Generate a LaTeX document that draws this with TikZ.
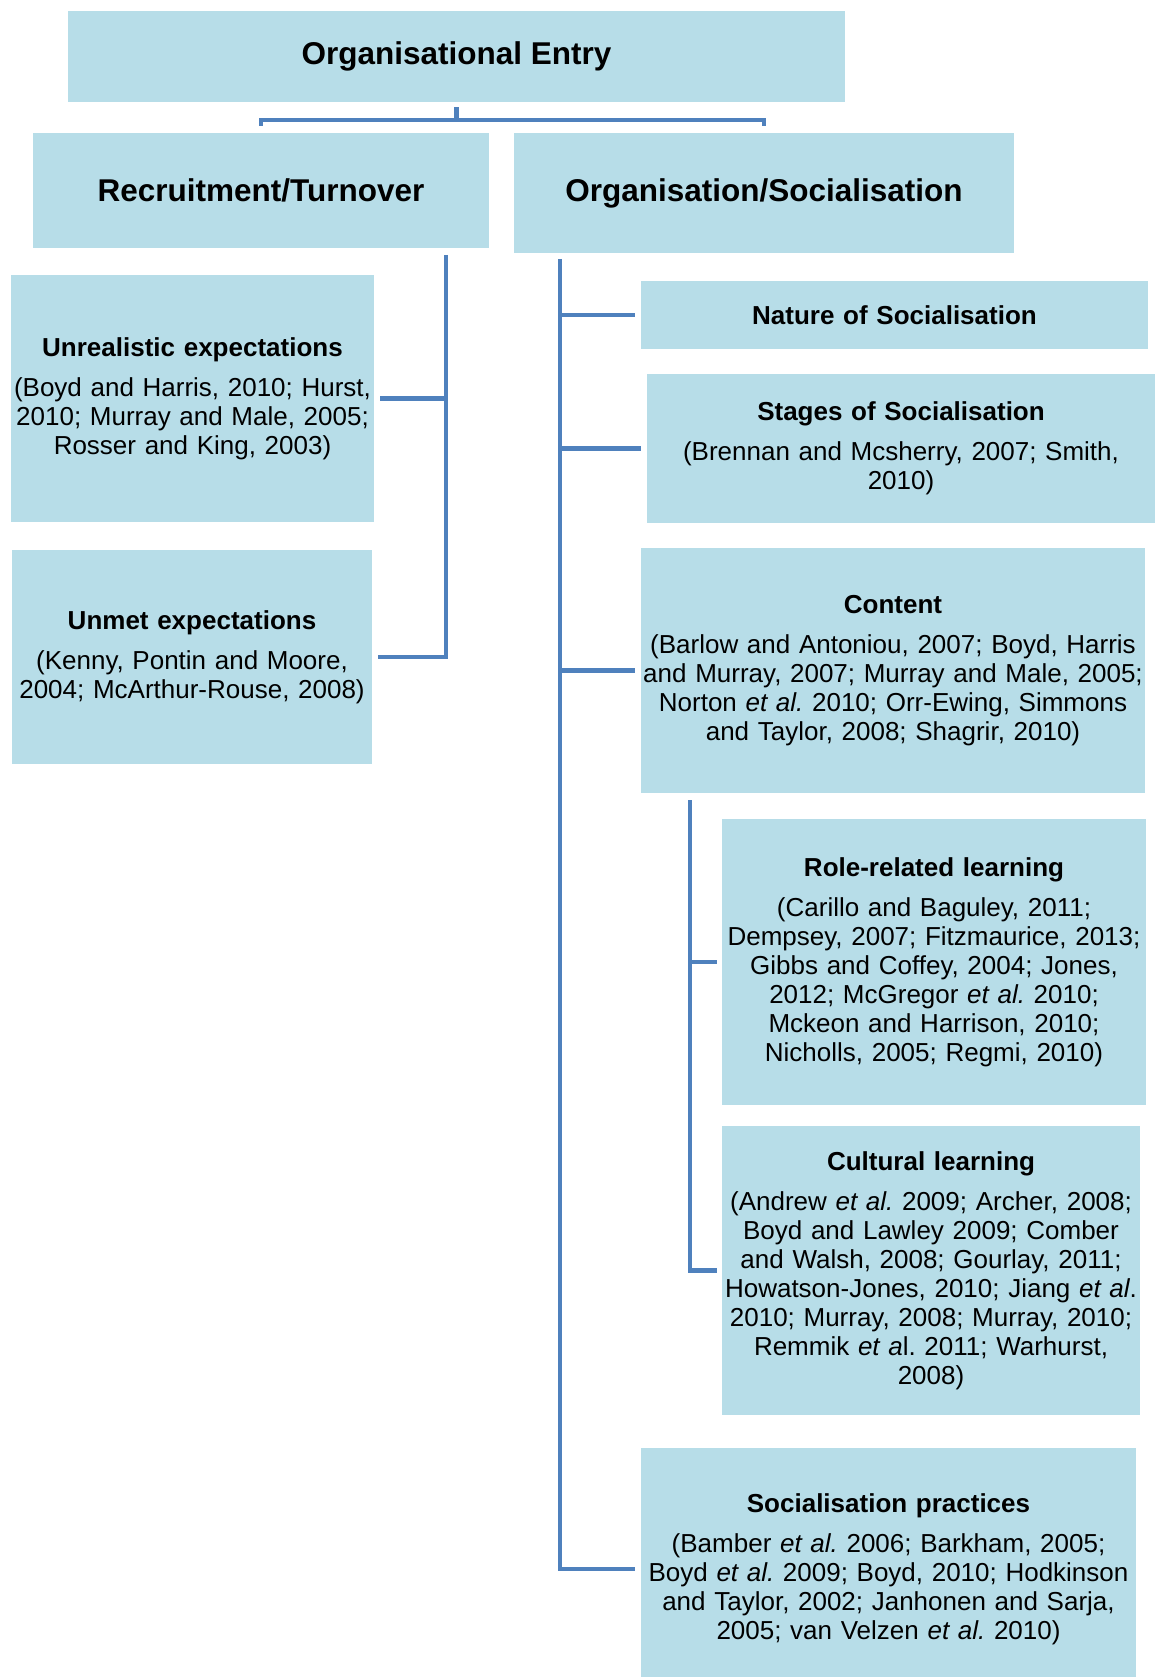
\documentclass[tikz,border=0pt]{standalone}
\usepackage{fontspec}
\setmainfont{Liberation Sans}
\definecolor{boxblue}{HTML}{B7DDE8}
\definecolor{lineblue}{HTML}{4F81BD}
\frenchspacing

\begin{document}
\begin{tikzpicture}[x=1pt,y=-1pt,
  box/.style={fill=boxblue,inner sep=0pt,align=center,font=\fontsize{26}{29}\selectfont},
  head/.style={box,font=\fontsize{31.5}{36}\selectfont\bfseries},
  link/.style={draw=lineblue,line width=4.5pt}]
\useasboundingbox (0,0) rectangle (1155,1677);
\node[head,minimum width=777,minimum height=91] (oe) at (456.5,56.5) {Organisational Entry};
\node[head,minimum width=456,minimum height=115] (rt) at (261,190.5) {Recruitment/Turnover};
\node[head,minimum width=500,minimum height=120] (os) at (764,193) {Organisation/Socialisation};
\node[box,text width=363,minimum height=247] (ue) at (192.5,398.5) {\textbf{Unrealistic expectations}\\[11pt]
  (Boyd and Harris, 2010; Hurst,\\ 2010; Murray and Male, 2005;\\ Rosser and King, 2003)};
\node[box,text width=360,minimum height=214] (um) at (192,657) {\textbf{Unmet expectations}\\[11pt]
  (Kenny, Pontin and Moore,\\ 2004; McArthur-Rouse, 2008)};
\node[box,text width=507,minimum height=68] (ns) at (894.5,315) {\textbf{Nature of Socialisation}};
\node[box,text width=508,minimum height=149] (ss) at (901,448.5) {\textbf{Stages of Socialisation}\\[11pt]
  (Brennan and Mcsherry, 2007; Smith,\\ 2010)};
\node[box,text width=504,minimum height=245] (ct) at (893,670.5) {\textbf{Content}\\[11pt]
  (Barlow and Antoniou, 2007; Boyd, Harris\\ and Murray, 2007; Murray and Male, 2005;\\
  Norton \textit{et al.}\ 2010; Orr-Ewing, Simmons\\ and Taylor, 2008; Shagrir, 2010)};
\node[box,text width=424,minimum height=286] (rl) at (934,962) {\textbf{Role-related learning}\\[11pt]
  (Carillo and Baguley, 2011;\\ Dempsey, 2007; Fitzmaurice, 2013;\\ Gibbs and Coffey, 2004; Jones,\\
  2012; McGregor \textit{et al.}\ 2010;\\ Mckeon and Harrison, 2010;\\ Nicholls, 2005; Regmi, 2010)};
\node[box,text width=418,minimum height=289] (cl) at (931,1270.5) {\textbf{Cultural learning}\\[11pt]
  (Andrew \textit{et al.}\ 2009; Archer, 2008;\\ Boyd and Lawley 2009; Comber\\ and Walsh, 2008; Gourlay, 2011;\\
  Howatson-Jones, 2010; Jiang \textit{et al}.\\ 2010; Murray, 2008; Murray, 2010;\\
  Remmik \textit{et a}l. 2011; Warhurst,\\ 2008)};
\node[box,text width=495,minimum height=242] (sp) at (888.5,1569) {\textbf{Socialisation practices}\\[11pt]
  (Bamber \textit{et al.}\ 2006; Barkham, 2005;\\ Boyd \textit{et al.}\ 2009; Boyd, 2010; Hodkinson\\
  and Taylor, 2002; Janhonen and Sarja,\\ 2005; van Velzen \textit{et al.}\ 2010)};
\coordinate (bus) at ([yshift=-18pt]oe.south);
\coordinate (lt) at (446,255);
\coordinate (rtk) at (560,259);
\coordinate (stk) at (690,800);
\draw[link] ([yshift=-5pt]oe.south) -- (bus);
\draw[link] ([yshift=7pt]rt.north) |- (bus) -| ([yshift=7pt]os.north);
\draw[link] (lt) |- ([xshift=6pt]um.east);
\draw[link] (lt |- ue.east) -- ([xshift=6pt]ue.east);
\draw[link] (rtk) |- ([xshift=-6pt]sp.west);
\foreach \n in {ns,ss,ct}
  \draw[link] (rtk |- \n.west) -- ([xshift=-6pt]\n.west);
\draw[link] (stk) |- ([xshift=-5pt]cl.west);
\draw[link] (stk |- rl.west) -- ([xshift=-5pt]rl.west);
\end{tikzpicture}
\end{document}
